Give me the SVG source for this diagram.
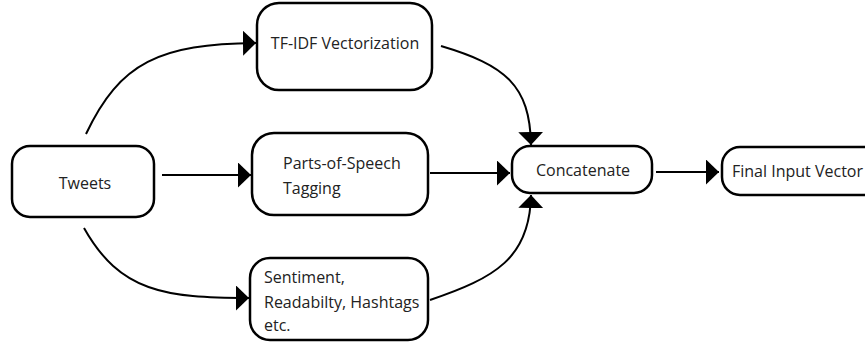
<svg xmlns="http://www.w3.org/2000/svg" width="865" height="345" viewBox="0 0 865 345">
<style>
.box{fill:#fff;stroke:#000;stroke-width:2.5}
.t{font-family:"Open Sans","Noto Sans","Liberation Sans",sans-serif;font-size:16px;fill:#222}
.c{text-anchor:middle}
.e{fill:none;stroke:#000;stroke-width:2}
</style>
<defs>
<marker id="ah" markerUnits="userSpaceOnUse" markerWidth="14" markerHeight="26" refX="13" refY="12.5" orient="auto" viewBox="0 0 14 26">
<path d="M0,0 L13,12.5 L0,25 Z" fill="#000"/>
</marker>
</defs>
<rect width="865" height="345" fill="#fff"/>
<g id="connectors">
<path class="e" d="M86,134 C120,62 160,44 256,43" marker-end="url(#ah)"/>
<path class="e" d="M162,175 L251,175" marker-end="url(#ah)"/>
<path class="e" d="M84,228 C120,292 165,298 249,298" marker-end="url(#ah)"/>
<path class="e" d="M441,46 C505,65 530,85 531,145" marker-end="url(#ah)"/>
<path class="e" d="M430,173 L510,173" marker-end="url(#ah)"/>
<path class="e" d="M430,300 C495,278 530,258 531,195" marker-end="url(#ah)"/>
<path class="e" d="M656,172 L719,172" marker-end="url(#ah)"/>
</g>
<g id="tweets">
<rect class="box" x="12" y="146" width="142" height="71" rx="18"/>
<text class="t c" x="85" y="189">Tweets</text>
</g>
<g id="tfidf">
<rect class="box" x="257" y="3" width="175" height="87" rx="22"/>
<text class="t c" x="345" y="49">TF-IDF Vectorization</text>
</g>
<g id="pos">
<rect class="box" x="252" y="133" width="176" height="82" rx="22"/>
<text class="t" x="283" y="169">Parts-of-Speech</text>
<text class="t" x="283" y="194">Tagging</text>
</g>
<g id="sentiment">
<rect class="box" x="250" y="258" width="178" height="82" rx="20"/>
<text class="t" x="264" y="283">Sentiment,</text>
<text class="t" x="264" y="308">Readabilty, Hashtags</text>
<text class="t" x="264" y="331">etc.</text>
</g>
<g id="concatenate">
<rect class="box" x="512" y="146" width="140" height="47" rx="18"/>
<text class="t c" x="583" y="176">Concatenate</text>
</g>
<g id="final">
<rect class="box" x="722" y="147" width="160" height="48" rx="18"/>
<text class="t" x="732" y="177">Final Input Vector</text>
</g>
</svg>
